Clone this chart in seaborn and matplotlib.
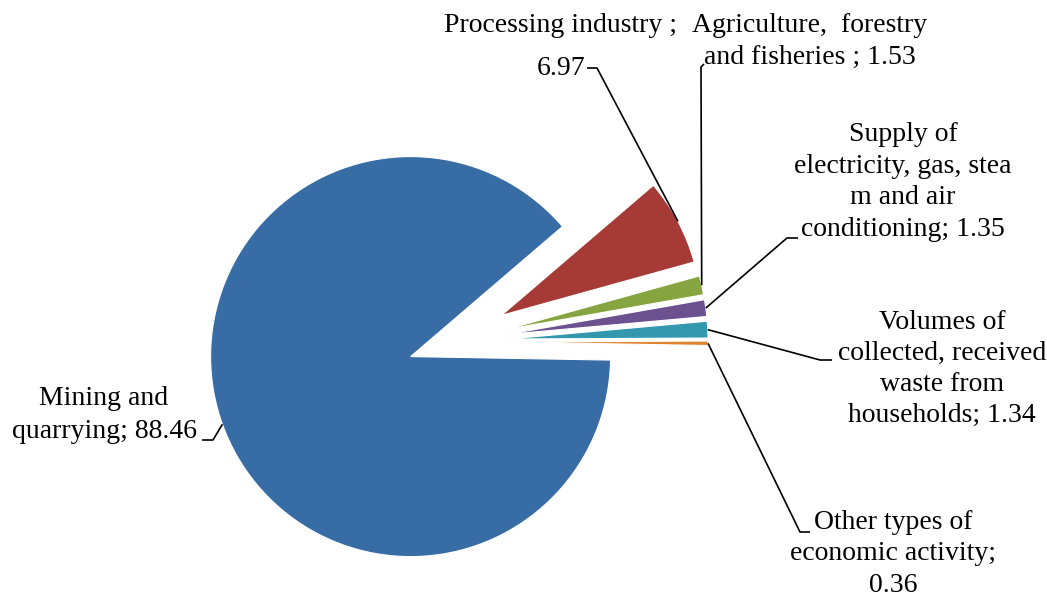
import numpy as np
import matplotlib
matplotlib.use("Agg")
import matplotlib.pyplot as plt
import seaborn as sns

# --- data ---
categories = [
    "Mining and quarrying",
    "Processing industry",
    "Agriculture, forestry and fisheries",
    "Supply of electricity, gas, steam and air conditioning",
    "Volumes of collected, received waste from households",
    "Other types of economic activity",
]
shares = [88.46, 6.97, 1.53, 1.35, 1.34, 0.36]
label_texts = [
    "Mining and\nquarrying; 88.46",
    "Processing industry ;\n6.97",
    "Agriculture,  forestry\nand fisheries ; 1.53",
    "Supply of\nelectricity, gas, stea\nm and air\nconditioning; 1.35",
    "Volumes of\ncollected, received\nwaste from\nhouseholds; 1.34",
    "Other types of\neconomic activity;\n0.36",
]
colors = ["#386CA5", "#A63A36", "#86A43F", "#6B5190", "#3398AE", "#E0832F"]

# --- layout (pixels, origin top-left) ---
W, H = 1047, 596
R = 200
CENTER_PX = (452, 341.7)
explode_frac = [0.22, 0.28, 0.28, 0.28, 0.28, 0.28]
label_pos_px = [(104, 415), (561, 47), (810, 41.5), (903, 182), (942, 369), (893, 554)]
line_spacing = [1.4, 1.95, 1.4, 1.35, 1.33, 1.33]
leader_px = [
    [(213, 440), (202, 440)],
    [(597, 68), (587, 68)],
    [(701, 67), (704, 64)],
    [(787, 238), (798, 238)],
    [(820, 360), (832, 360)],
    [(800, 532), (810, 532)],
]


def flip(p):
    return (p[0], H - p[1])


sns.set_theme(style="white")
plt.rcParams["font.family"] = ["Liberation Serif", "DejaVu Serif"]

fig = plt.figure(figsize=(W / 100, H / 100), dpi=100)
ax = fig.add_axes([0, 0, 1, 1])

wedges, _ = ax.pie(
    shares,
    colors=sns.color_palette(colors),
    startangle=-1,
    counterclock=False,
    radius=R,
    center=flip(CENTER_PX),
    explode=[f * R for f in explode_frac],
    wedgeprops=dict(edgecolor="white", linewidth=0.8),
)

# leader lines start on the middle of each wedge's arc
for w, pts in zip(wedges, leader_px):
    th = np.deg2rad((w.theta1 + w.theta2) / 2)
    ax_pt = (w.center[0] + w.r * np.cos(th), w.center[1] + w.r * np.sin(th))
    path = [ax_pt] + [flip(p) for p in pts]
    xs, ys = zip(*path)
    ax.plot(xs, ys, color="black", lw=1.2, solid_capstyle="butt")

for txt, pos, ls in zip(label_texts, label_pos_px, line_spacing):
    x, y = flip(pos)
    ax.text(x, y, txt, ha="center", va="center", fontsize=20,
            linespacing=ls, color="black")

ax.set_xlim(0, W)
ax.set_ylim(0, H)
ax.set_aspect("equal")
ax.axis("off")

fig.savefig("out.png", dpi=100)
